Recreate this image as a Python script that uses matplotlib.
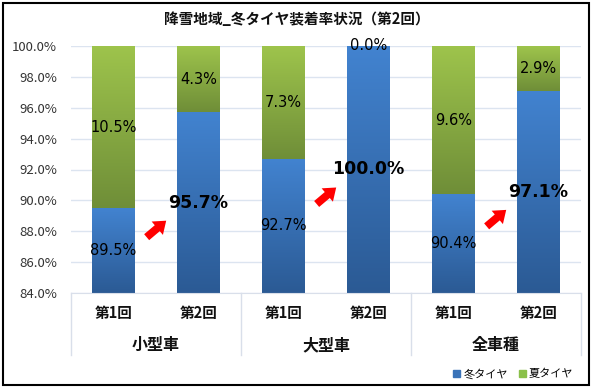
import numpy as np
import matplotlib
matplotlib.use('Agg')
import matplotlib.pyplot as plt
from matplotlib.patches import Patch, Rectangle, FancyArrowPatch, ArrowStyle
from matplotlib.colors import LinearSegmentedColormap
from matplotlib.lines import Line2D

plt.rcParams['font.family'] = ['Noto Sans CJK JP', 'DejaVu Sans']

# ---- data ----
title = '降雪地域_冬タイヤ装着率状況（第2回）'
groups = ['小型車', '大型車', '全車種']
rounds = ['第1回', '第2回']
winter = [89.5, 95.7, 92.7, 100.0, 90.4, 97.1]   # 冬タイヤ
summer = [10.5, 4.3, 7.3, 0.0, 9.6, 2.9]         # 夏タイヤ
series_names = ['冬タイヤ', '夏タイヤ']
yticks = [84, 86, 88, 90, 92, 94, 96, 98, 100]

# ---- figure ----
W, H = 593, 390
fig = plt.figure(figsize=(W / 100, H / 100), dpi=100)
ax = fig.add_axes([71 / W, 1 - 293 / H, (581 - 71) / W, (293 - 46) / H])

n = len(winter)
x = np.arange(n)
bw = 0.5
ymin, ymax = yticks[0], yticks[-1]

blue_cmap = LinearSegmentedColormap.from_list('b', ['#2B5A94', '#4283D0'])
green_cmap = LinearSegmentedColormap.from_list('g', ['#6F8E38', '#9EC44C'])

bw_bars = ax.bar(x, winter, width=bw, color='#3A73B8', zorder=2)
bs_bars = ax.bar(x, summer, width=bw, bottom=winter, color='#8AAE43', zorder=2)

grad = np.linspace(0, 1, 256).reshape(-1, 1)


def fill_gradient(patches, cmap):
    for p in patches:
        x0 = p.get_x()
        x1 = x0 + p.get_width()
        y0 = max(p.get_y(), ymin)
        y1 = min(p.get_y() + p.get_height(), ymax)
        if y1 <= y0:
            continue
        ax.imshow(grad, extent=[x0, x1, y0, y1], cmap=cmap, aspect='auto',
                  origin='lower', zorder=2.5, interpolation='bilinear')


fill_gradient(bw_bars, blue_cmap)
fill_gradient(bs_bars, green_cmap)

ax.set_xlim(-0.5, n - 0.5)
ax.set_ylim(ymin, ymax)

# grid + axes
ax.set_yticks(yticks)
ax.set_yticklabels([f'{v:.1f}%' for v in yticks], fontsize=9.5, color='#333333')
ax.yaxis.grid(True, color='#DCE4F0', lw=1.0, zorder=0)
ax.set_axisbelow(True)
ax.tick_params(axis='y', length=0, pad=10)
ax.set_xticks([])
for s in ['top', 'right', 'left']:
    ax.spines[s].set_visible(False)
ax.spines['bottom'].set_color('#D9DFEA')
ax.spines['bottom'].set_zorder(3)

# data labels
for i in range(n):
    wy0, wy1 = max(0, ymin), min(winter[i], ymax)
    wyc = (wy0 + wy1) / 2
    if i % 2 == 1:
        ax.text(i, wyc, f'{winter[i]:.1f}%', ha='center', va='center',
                fontsize=12.5, fontweight='bold', color='black', zorder=5,
                family=['DejaVu Sans'])
        # arrow pointing to the bold label
        ex, ey = i - 0.355, wyc - 1.05
        sx, sy = ex - 0.28, ey - 1.3
        arr = FancyArrowPatch((sx, sy), (ex, ey),
                              arrowstyle=ArrowStyle('Simple', head_length=0.6,
                                                    head_width=0.9, tail_width=0.4),
                              mutation_scale=14, color='#FF0000', lw=0, zorder=5)
        ax.add_patch(arr)
    else:
        ax.text(i, wyc, f'{winter[i]:.1f}%', ha='center', va='center',
                fontsize=10.5, color='black', zorder=5, family=['DejaVu Sans'])
    sy0, sy1 = max(winter[i], ymin), min(winter[i] + summer[i], ymax)
    syc = (sy0 + sy1) / 2
    ax.text(i, syc, f'{summer[i]:.1f}%', ha='center', va='center',
            fontsize=10.5, color='black', zorder=5, family=['DejaVu Sans'])

# multi-level category axis
tr = ax.get_xaxis_transform()
for i in range(n):
    ax.text(i, -0.082, rounds[i % 2], transform=tr, ha='center', va='center',
            fontsize=10.5, fontweight='bold', color='#111111')
for g, name in enumerate(groups):
    ax.text(2 * g + 0.5, -0.212, name, transform=tr, ha='center', va='center',
            fontsize=11.5, fontweight='bold', color='#111111')
for xv in np.arange(-0.5, n, 2):
    ax.add_line(Line2D([xv, xv], [0, -0.252], transform=tr, color='#D9DFEA',
                       lw=1.0, clip_on=False))

# title
fig.text(0.5, 1 - 19 / H, title, ha='center', va='center', fontsize=10.5,
         fontweight='bold', color='#111111')

# legend
handles = [Patch(color='#3A73B8'), Patch(color='#8AC04A')]
fig.legend(handles, series_names, loc='center right',
           bbox_to_anchor=(578 / W, 1 - 374 / H), ncol=2, frameon=False,
           fontsize=8, handlelength=0.6, handleheight=0.6, handletextpad=0.3,
           columnspacing=1.0, borderaxespad=0)

# outer frame
fig.add_artist(Rectangle((3 / W, 5 / H), 586 / W, 382 / H, transform=fig.transFigure,
                         fill=False, edgecolor='black', lw=1.5))

fig.savefig('out.png', dpi=100)
